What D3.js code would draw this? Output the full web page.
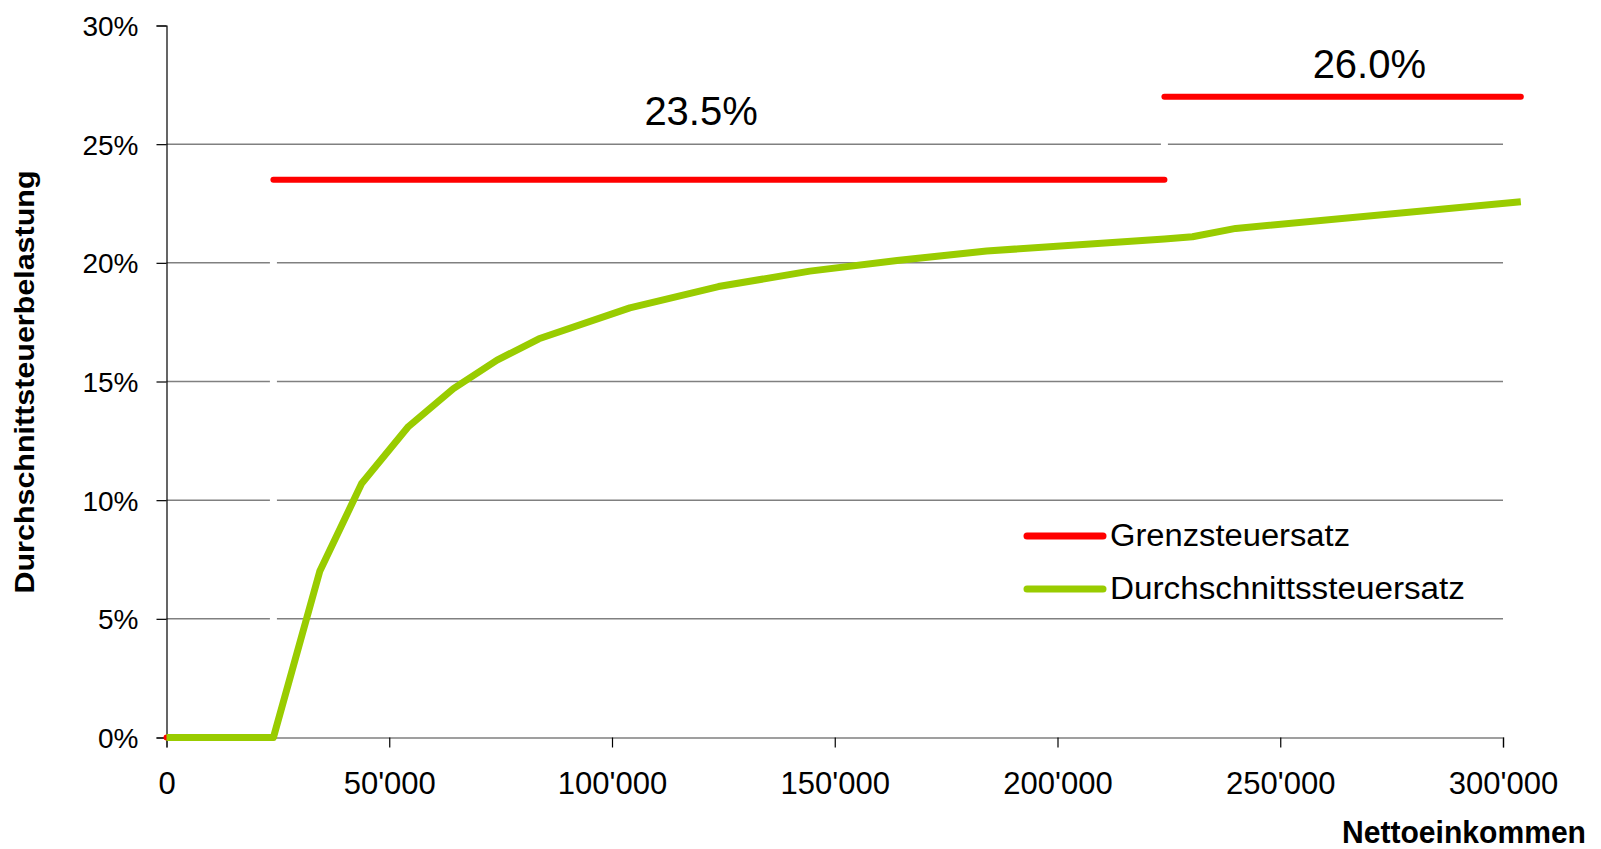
<!DOCTYPE html>
<html>
<head>
<meta charset="utf-8">
<script src="https://cdn.jsdelivr.net/npm/d3@7"></script>
<style>
  body { margin: 0; background: #fff; }
  text { font-family: "Liberation Sans", Arial, sans-serif; }
</style>
</head>
<body>
<div id="chart"></div>
<script>
var width = 1601,
    height = 849;

// data
var xTicks = [0, 50000, 100000, 150000, 200000, 250000, 300000];
var yTicks = [0, 5, 10, 15, 20, 25, 30];

// Durchschnittssteuersatz (green)
var avgIncome = [0, 24000, 34400, 43800, 54300, 64400, 74200, 83600, 104000, 123900, 144400, 164000, 184100, 224000, 230300, 240000, 304000];
var avgRate   = [0, 0,     7.0,   10.7,  13.1,  14.7,  15.9,  16.8,  18.1,   19.0,   19.65,  20.1,   20.5,   21.0,   21.1,   21.45,  22.57];

// Grenzsteuersatz (red), stepped
var margFrom = [0, 24000, 224000];
var margTo   = [24000, 224000, 304000];
var margRate = [0, 23.5, 27.0];

// the two rate labels, anchored in data units
var rateLabels = ["23.5%", "26.0%"];
var rateLabelX = [120000, 270000];
var rateLabelY = [25.8, 27.8];

var legendNames = ["Grenzsteuersatz", "Durchschnittssteuersatz"];
var legendColors = ["#ff0000", "#99cc00"];

var svg = d3.select("#chart").append("svg")
    .attr("width", width)
    .attr("height", height);

var x = d3.scaleLinear().domain([0, 300000]).range([166.5, 1503]);
var y = d3.scaleLinear().domain([0, 30]).range([737.5, 25.5]);

var fmt = d3.formatLocale({decimal: ".", thousands: "'", grouping: [3], currency: ["", ""]}).format(",");

//gridlines
svg.append("g")
    .selectAll("line")
    .data(yTicks.filter(function(d) { return d > 0 && d < 30; }))
    .join("line")
    .attr("x1", x(0))
    .attr("x2", x(300000))
    .attr("y1", function(d) { return y(d); })
    .attr("y2", function(d) { return y(d); })
    .attr("stroke", "#808080")
    .attr("stroke-width", 1.5);

//y axis
var yAxis = svg.append("g")
    .attr("transform", "translate(" + x(0) + ",0)")
    .call(d3.axisLeft(y).tickValues(yTicks).tickSize(10).tickPadding(18)
        .tickFormat(function(d) { return d + "%"; }));
yAxis.select(".domain").attr("stroke", "#000").attr("stroke-width", 1.2);
yAxis.selectAll(".tick line").attr("stroke", "#000").attr("stroke-width", 1.2);
yAxis.selectAll(".tick text")
    .attr("font-family", "Liberation Sans, Arial, sans-serif")
    .attr("font-size", "28px")
    .attr("fill", "#000")
    .attr("dy", "0.36em");

//x axis
var xAxis = svg.append("g")
    .attr("transform", "translate(0," + y(0) + ")")
    .call(d3.axisBottom(x).tickValues(xTicks).tickSize(10).tickPadding(24).tickFormat(fmt));
xAxis.select(".domain").attr("stroke", "#808080").attr("stroke-width", 1.5);
xAxis.selectAll(".tick line").attr("stroke", "#000").attr("stroke-width", 1.2);
xAxis.selectAll(".tick text")
    .attr("font-family", "Liberation Sans, Arial, sans-serif")
    .attr("font-size", "31px")
    .attr("fill", "#000");

//white risers of the step series (they cut the gridlines)
svg.append("g")
    .selectAll("line")
    .data(d3.range(1, margFrom.length))
    .join("line")
    .attr("x1", function(i) { return x(margFrom[i]); })
    .attr("x2", function(i) { return x(margFrom[i]); })
    .attr("y1", function(i) { return y(margRate[i - 1]); })
    .attr("y2", function(i) { return y(margRate[i]); })
    .attr("stroke", "#fff")
    .attr("stroke-width", 7);

//red steps
svg.append("g")
    .selectAll("line")
    .data(d3.range(margFrom.length))
    .join("line")
    .attr("x1", function(i) { return x(margFrom[i]); })
    .attr("x2", function(i) { return x(margTo[i]); })
    .attr("y1", function(i) { return y(margRate[i]); })
    .attr("y2", function(i) { return y(margRate[i]); })
    .attr("stroke", "#ff0000")
    .attr("stroke-width", 6)
    .attr("stroke-linecap", "round");

//green line
var line = d3.line()
    .x(function(d, i) { return x(avgIncome[i]); })
    .y(function(d) { return y(d); });

svg.append("path")
    .datum(avgRate)
    .attr("d", line)
    .attr("fill", "none")
    .attr("stroke", "#99cc00")
    .attr("stroke-width", 7)
    .attr("stroke-linejoin", "round");

//rate labels above the steps
svg.append("g")
    .selectAll("text")
    .data(rateLabels)
    .join("text")
    .attr("x", function(d, i) { return x(rateLabelX[i]); })
    .attr("y", function(d, i) { return y(rateLabelY[i]); })
    .attr("text-anchor", "middle")
    .attr("font-size", "40px")
    .attr("fill", "#000")
    .text(function(d) { return d; });

//legend
var legend = svg.append("g")
    .attr("transform", "translate(1027,536)");

legend.selectAll("line")
    .data(legendNames)
    .join("line")
    .attr("x1", 0)
    .attr("x2", 76)
    .attr("y1", function(d, i) { return i * 53; })
    .attr("y2", function(d, i) { return i * 53; })
    .attr("stroke", function(d, i) { return legendColors[i]; })
    .attr("stroke-width", 7)
    .attr("stroke-linecap", "round");

legend.selectAll("text")
    .data(legendNames)
    .join("text")
    .attr("x", 83)
    .attr("y", function(d, i) { return i * 53 + 10; })
    .attr("font-size", "31px")
    .attr("fill", "#000")
    .attr("textLength", function(d, i) { return i == 0 ? 240 : 355; })
    .attr("lengthAdjust", "spacingAndGlyphs")
    .text(function(d) { return d; });

//axis titles
svg.append("text")
    .attr("transform", "translate(34,382) rotate(-90)")
    .attr("text-anchor", "middle")
    .attr("font-size", "28px")
    .attr("font-weight", "bold")
    .attr("textLength", 423)
    .attr("lengthAdjust", "spacingAndGlyphs")
    .text("Durchschnittsteuerbelastung");

svg.append("text")
    .attr("x", 1342)
    .attr("y", 843)
    .attr("font-size", "31px")
    .attr("font-weight", "bold")
    .attr("textLength", 244)
    .attr("lengthAdjust", "spacingAndGlyphs")
    .text("Nettoeinkommen");
</script>
</body>
</html>
